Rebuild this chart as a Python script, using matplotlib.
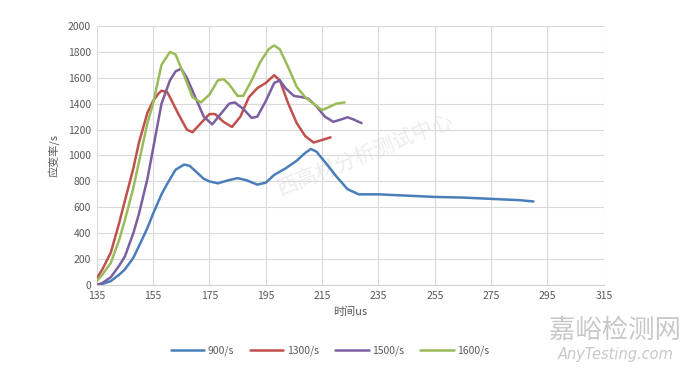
import matplotlib
matplotlib.use("Agg")
import matplotlib.pyplot as plt

plt.rcParams['font.family'] = ['Noto Sans CJK SC', 'DejaVu Sans']

# ---- data ----
x_900 = [135, 137, 140, 143, 145, 148, 150, 153, 155, 158, 160, 163, 166, 168, 170, 173, 175, 178,
         182, 185, 188, 192, 195, 198, 202, 206, 209, 211, 213, 216, 220, 224, 228, 235, 245, 255,
         265, 275, 285, 290]
y_900 = [0, 8, 30, 80, 120, 210, 300, 440, 550, 700, 780, 890, 930, 920, 880, 820, 800, 785,
         810, 825, 810, 775, 790, 850, 900, 960, 1020, 1050, 1030, 950, 840, 740, 700, 700, 690, 680,
         675, 665, 655, 645]

x_1300 = [135, 137, 140, 143, 145, 148, 150, 153, 155, 157, 158, 160, 161, 164, 167, 169, 172, 175,
          177, 180, 183, 186, 189, 192, 195, 198, 200, 203, 206, 209, 212, 215, 218]
y_1300 = [50, 120, 250, 480, 650, 900, 1100, 1330, 1420, 1480, 1500, 1490, 1450, 1320, 1200, 1180,
          1250, 1320, 1320, 1260, 1220, 1300, 1450, 1520, 1560, 1620, 1580, 1400, 1250, 1150, 1100,
          1120, 1140]

x_1500 = [135, 137, 140, 143, 145, 148, 150, 153, 155, 158, 161, 163, 165, 167, 170, 173, 176, 179,
          182, 184, 187, 190, 192, 195, 198, 200, 202, 205, 208, 210, 213, 216, 219, 222, 224, 226, 229]
y_1500 = [0, 15, 60, 150, 220, 400, 550, 820, 1050, 1400, 1580, 1650, 1670, 1600, 1450, 1300, 1240,
          1320, 1400, 1410, 1360, 1290, 1300, 1420, 1560, 1580, 1520, 1460, 1450, 1440, 1380, 1300,
          1260, 1280, 1295, 1280, 1250]

x_1600 = [135, 137, 140, 143, 145, 148, 150, 153, 155, 158, 161, 163, 166, 169, 172, 175, 178, 180,
          182, 185, 187, 190, 193, 196, 198, 200, 203, 206, 209, 212, 215, 218, 220, 223]
y_1600 = [30, 80, 170, 350, 500, 750, 950, 1250, 1400, 1700, 1800, 1780, 1620, 1450, 1410, 1470,
          1580, 1590, 1550, 1460, 1460, 1580, 1720, 1820, 1850, 1820, 1680, 1530, 1450, 1400, 1350,
          1380, 1400, 1410]

series = [
    ("900/s", x_900, y_900, "#4A7EBB"),
    ("1300/s", x_1300, y_1300, "#C0504D"),
    ("1500/s", x_1500, y_1500, "#7B5FA0"),
    ("1600/s", x_1600, y_1600, "#9BBB59"),
]

x_ticks = [135, 155, 175, 195, 215, 235, 255, 275, 295, 315]
y_ticks = [0, 200, 400, 600, 800, 1000, 1200, 1400, 1600, 1800, 2000]

fig = plt.figure(figsize=(6.8, 3.74), dpi=100)
ax = fig.add_axes([0.1422, 0.238, 0.7458, 0.6925])

for label, xs, ys, c in series:
    ax.plot(xs, ys, color=c, lw=1.8, label=label, solid_joinstyle='round', solid_capstyle='round')

ax.set_xlim(135, 315)
ax.set_ylim(0, 2000)
ax.set_xticks(x_ticks)
ax.set_yticks(y_ticks)
ax.tick_params(axis='both', length=0, labelsize=7.5, colors='#595959', pad=4)
ax.grid(True, color='#D9D9D9', lw=0.8)
ax.set_axisbelow(True)
for s in ['top', 'right', 'left']:
    ax.spines[s].set_visible(False)
ax.spines['bottom'].set_color('#D0D0D0')

ax.set_xlabel("时间us", fontsize=8, color='#595959', labelpad=4)
ax.set_ylabel("应变率/s", fontsize=8, color='#595959', labelpad=6)

leg = fig.legend(loc='center', bbox_to_anchor=(0.485, 0.063), ncol=4, frameon=False,
                 fontsize=7.5, handlelength=3.2, columnspacing=1.6, handletextpad=0.3)
for t in leg.get_texts():
    t.set_color('#595959')

# watermarks
ax.text(0.53, 0.50, "西高材分析测试中心", transform=ax.transAxes, fontsize=15, color='#EDEDED',
        rotation=22, ha='center', va='center', zorder=0.5)
fig.text(0.905, 0.118, "嘉峪检测网", fontsize=19, color='#C8C8C8', ha='center', va='center')
fig.text(0.905, 0.052, "AnyTesting.com", fontsize=10.5, color='#C8C8C8', ha='center', va='center',
         style='italic', family=['DejaVu Sans'])

fig.savefig("out.png", dpi=100, facecolor='white')
